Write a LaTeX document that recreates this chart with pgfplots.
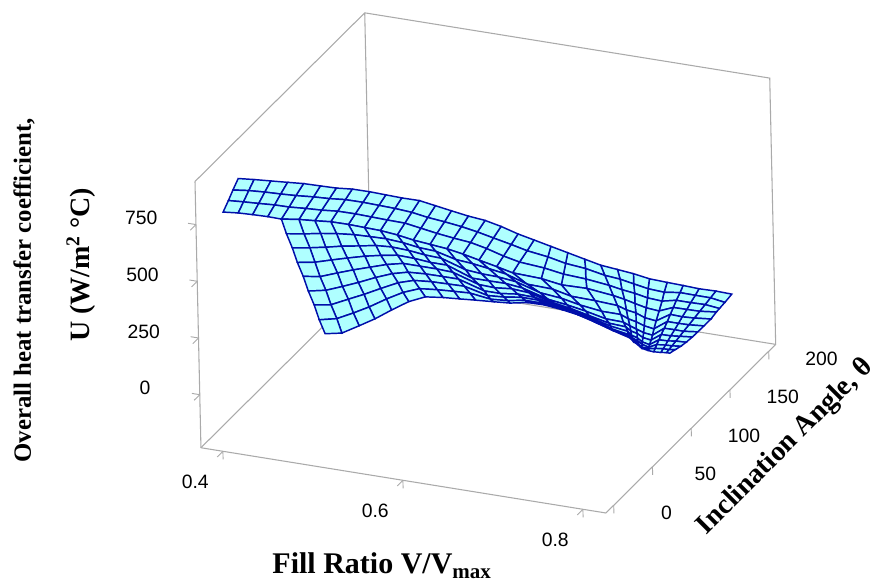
\documentclass[border=0pt]{standalone}
\usepackage{fontspec}
\setmainfont{Liberation Serif}
\setsansfont{Liberation Sans}
\usepackage{pgfplots}
\pgfplotsset{compat=1.18}
\definecolor{boxgray}{RGB}{170,170,170}
\definecolor{meshblue}{RGB}{0,15,170}
\pgfplotsset{surfstyle/.style={surf,shader=faceted,faceted color=meshblue,line width=1.1pt,
  colormap={cy}{rgb255=(175,255,255) rgb255=(175,255,255)},point meta=0}}
\begin{document}
\begin{tikzpicture}
\useasboundingbox (0,0) rectangle (660.75pt,435.75pt);
\begin{axis}[
  at={(146.25pt,51pt)},anchor=south west,
  x={(675pt,-108.75pt)},y={(0.58125pt,0.5775pt)},z={(-0.0038pt,0.1701pt)},
  xmin=0.3756,xmax=0.8256,ymin=-10,ymax=209,zmin=-234,zmax=940,
  axis x line*=bottom,axis y line*=left,axis z line*=left,
  axis line style={boxgray,line width=0.8pt},
  tick style={boxgray,line width=0.7pt},
  tick align=outside,major tick length=6pt,
  xtick={0.4,0.6,0.8},ytick={0,50,100,150,200},ztick={0,250,500,750},
  xticklabels={0.4,0.6,0.8},
  /pgf/number format/assume math mode=true,
  tick label style={font=\sffamily\fontsize{14.5}{16}\selectfont},
  x tick label style={anchor=center,xshift=-16.5pt,yshift=-18.75pt},
  y tick label style={anchor=center,xshift=33.75pt,yshift=-4.5pt},
  z tick label style={anchor=center,xshift=-36.75pt,yshift=9pt},
  clip=false,
]
\addplot3[boxgray,line width=0.8pt,no markers] coordinates {(0.3756,-10,-234) (0.3756,209,-234) (0.8256,209,-234) (0.8256,209,940) (0.3756,209,940) (0.3756,-10,940)};
\addplot3[boxgray,line width=0.8pt,no markers] coordinates {(0.3756,209,940) (0.3756,209,-234)};
\addplot3[surfstyle] coordinates {
(0.4533,39,814) (0.4533,29,795) (0.4533,20,775) (0.4533,10,756) (0.4533,16,671) (0.4533,23,585) (0.4533,29,500) (0.4533,36,415) (0.4533,42,330) (0.4533,49,245) (0.4533,55,159) (0.4533,62,74)

(0.4667,45,792) (0.4667,36,774) (0.4667,26,757) (0.4667,17,739) (0.4667,23,655) (0.4667,30,570) (0.4667,36,486) (0.4667,42,402) (0.4667,49,318) (0.4667,55,234) (0.4667,62,149) (0.4667,68,65)

(0.48,50,774) (0.48,41,758) (0.48,31,741) (0.48,22,725) (0.48,29,645) (0.48,35,564) (0.48,42,484) (0.48,49,403) (0.48,55,323) (0.48,62,243) (0.48,68,162) (0.48,75,82)

(0.4933,55,761) (0.4933,46,745) (0.4933,36,728) (0.4933,27,712) (0.4933,34,636) (0.4933,40,560) (0.4933,47,484) (0.4933,54,408) (0.4933,60,332) (0.4933,67,256) (0.4933,73,180) (0.4933,80,104)

(0.5067,62,734) (0.5067,53,718) (0.5067,43,701) (0.5067,34,685) (0.5067,41,616) (0.5067,47,546) (0.5067,54,477) (0.5067,60,408) (0.5067,67,339) (0.5067,73,270) (0.5067,80,200) (0.5067,86,131)

(0.52,67,712) (0.52,58,696) (0.52,48,679) (0.52,39,663) (0.52,46,599) (0.52,53,536) (0.52,59,472) (0.52,66,408) (0.52,73,344) (0.52,80,280) (0.52,86,217) (0.52,93,153)

(0.5333,72,690) (0.5333,63,674) (0.5333,53,657) (0.5333,44,641) (0.5333,51,581) (0.5333,58,521) (0.5333,65,461) (0.5333,72,401) (0.5333,78,342) (0.5333,85,282) (0.5333,92,222) (0.5333,99,162)

(0.5467,79,663) (0.5467,69,645) (0.5467,60,628) (0.5467,50,610) (0.5467,57,552) (0.5467,64,494) (0.5467,71,435) (0.5467,78,377) (0.5467,85,319) (0.5467,92,261) (0.5467,99,202) (0.5467,106,144)

(0.56,84,632) (0.56,74,614) (0.56,65,597) (0.56,55,579) (0.56,62,522) (0.56,69,466) (0.56,76,409) (0.56,84,353) (0.56,91,296) (0.56,98,239) (0.56,105,183) (0.56,112,126)

(0.5733,89,601) (0.5733,80,583) (0.5733,70,566) (0.5733,61,548) (0.5733,68,494) (0.5733,75,439) (0.5733,82,385) (0.5733,89,330) (0.5733,96,276) (0.5733,103,221) (0.5733,110,167) (0.5733,117,112)

(0.5867,95,566) (0.5867,86,550) (0.5867,76,533) (0.5867,67,517) (0.5867,78,432) (0.5867,90,346) (0.5867,98,282) (0.5867,106,227) (0.5867,113,175) (0.5867,117,141) (0.5867,121,111) (0.5867,124,90)

(0.6,101,535) (0.6,91,518) (0.6,82,502) (0.6,72,485) (0.6,84,402) (0.6,95,320) (0.6,104,258) (0.6,111,204) (0.6,118,155) (0.6,123,122) (0.6,127,93) (0.6,130,72)

(0.6133,106,500) (0.6133,96,483) (0.6133,87,467) (0.6133,77,450) (0.6133,89,372) (0.6133,101,294) (0.6133,110,235) (0.6133,118,184) (0.6133,125,137) (0.6133,130,106) (0.6133,134,79) (0.6133,137,59)

(0.6267,112,455) (0.6267,103,439) (0.6267,93,422) (0.6267,84,406) (0.6267,96,332) (0.6267,108,258) (0.6267,116,203) (0.6267,124,155) (0.6267,131,111) (0.6267,136,81) (0.6267,140,55) (0.6267,143,37)

(0.64,117,420) (0.64,108,403) (0.64,98,387) (0.64,89,370) (0.64,107,259) (0.64,123,167) (0.64,133,104) (0.64,140,64) (0.64,144,38) (0.64,147,19) (0.64,149,8) (0.64,150,1)

(0.6533,123,380) (0.6533,119,347) (0.6533,114,315) (0.6533,110,282) (0.6533,124,188) (0.6533,135,110) (0.6533,142,57) (0.6533,147,23) (0.6533,151,1) (0.6533,153,-14) (0.6533,154,-24) (0.6533,155,-30)

(0.6667,129,340) (0.6667,126,303) (0.6667,123,266) (0.6667,120,229) (0.6667,132,138) (0.6667,143,62) (0.6667,150,11) (0.6667,154,-22) (0.6667,157,-44) (0.6667,159,-59) (0.6667,160,-68) (0.6667,161,-74)

(0.68,135,300) (0.68,136,255) (0.68,136,209) (0.68,137,164) (0.68,147,76) (0.68,155,2) (0.68,160,-48) (0.68,164,-81) (0.68,166,-101) (0.68,167,-116) (0.68,168,-125) (0.68,169,-131)

(0.6933,140,265) (0.6933,145,203) (0.6933,150,142) (0.6933,155,80) (0.6933,160,19) (0.6933,164,-34) (0.6933,167,-78) (0.6933,170,-109) (0.6933,172,-135) (0.6933,173,-153) (0.6933,174,-166) (0.6933,175,-175)

(0.7067,146,234) (0.7067,149,181) (0.7067,151,128) (0.7067,154,75) (0.7067,156,22) (0.7067,158,-24) (0.7067,160,-62) (0.7067,161,-88) (0.7067,162,-111) (0.7067,163,-126) (0.7067,164,-137) (0.7067,164,-145)

(0.72,151,207) (0.72,151,162) (0.72,152,117) (0.72,152,72) (0.72,153,27) (0.72,153,-12) (0.72,153,-44) (0.72,154,-67) (0.72,154,-86) (0.72,154,-99) (0.72,154,-109) (0.72,154,-115)

(0.7333,156,176) (0.7333,154,139) (0.7333,153,102) (0.7333,151,65) (0.7333,149,28) (0.7333,148,-4) (0.7333,147,-31) (0.7333,146,-49) (0.7333,145,-65) (0.7333,145,-76) (0.7333,144,-84) (0.7333,144,-89)

(0.7467,163,145) (0.7467,159,115) (0.7467,156,86) (0.7467,152,56) (0.7467,148,26) (0.7467,145,1) (0.7467,143,-20) (0.7467,141,-35) (0.7467,139,-48) (0.7467,138,-56) (0.7467,138,-63) (0.7467,137,-67)

(0.76,168,123) (0.76,164,105) (0.76,159,88) (0.76,155,70) (0.76,151,53) (0.76,147,35) (0.76,143,19) (0.76,139,5) (0.76,136,-8) (0.76,133,-19) (0.76,131,-29) (0.76,129,-37)

(0.7733,173,100) (0.7733,168,88) (0.7733,162,76) (0.7733,157,63) (0.7733,151,51) (0.7733,146,39) (0.7733,141,28) (0.7733,136,18) (0.7733,132,9) (0.7733,129,1) (0.7733,126,-5) (0.7733,123,-11)

(0.7867,179,78) (0.7867,172,72) (0.7867,165,66) (0.7867,158,60) (0.7867,151,54) (0.7867,144,48) (0.7867,137,43) (0.7867,132,38) (0.7867,127,34) (0.7867,122,30) (0.7867,118,27) (0.7867,115,24)

(0.8,184,56) (0.8,175,50) (0.8,168,47) (0.8,164,45) (0.8,157,38) (0.8,148,38) (0.8,140,39) (0.8,133,40) (0.8,125,44) (0.8,118,50) (0.8,111,59) (0.8,104,67)
};
\addplot3[surfstyle] coordinates {
(0.4,17,877) (0.4,10,850) (0.4,4,824) (0.4,-3,797)

(0.4133,22,864) (0.4133,15,839) (0.4133,8,813) (0.4133,1,788)

(0.4267,28,846) (0.4267,20,824) (0.4267,12,801) (0.4267,4,779)

(0.44,34,828) (0.44,25,807) (0.44,17,786) (0.44,8,765)

(0.4533,39,814) (0.4533,29,795) (0.4533,20,775) (0.4533,10,756)
};
\end{axis}
\node[font=\bfseries\fontsize{22.5}{24}\selectfont] at (286.5pt,11.5pt) {Fill Ratio V/V\textsubscript{max}};
\node[font=\bfseries\fontsize{18.6}{20}\selectfont,rotate=90] at (18pt,218pt) {Overall heat transfer coefficient,};
\node[font=\bfseries\fontsize{21}{23}\selectfont,rotate=90] at (60.75pt,237pt) {U (W/m\textsuperscript{2} °C)};
\node[font=\bfseries\fontsize{21}{23}\selectfont,rotate=45] at (589pt,100.5pt) {Inclination Angle, θ};
\end{tikzpicture}
\end{document}
